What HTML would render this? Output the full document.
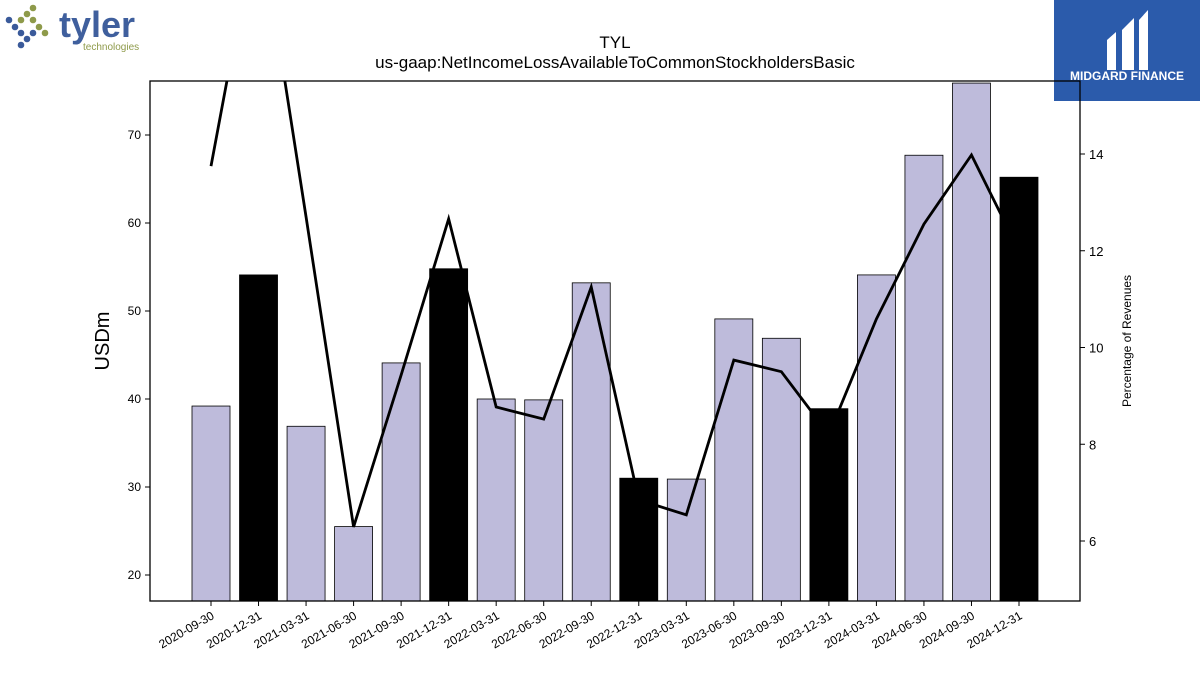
<!DOCTYPE html>
<html><head><meta charset="utf-8"><style>
body{margin:0;background:#fff;width:1200px;height:675px;overflow:hidden;font-family:"Liberation Sans","DejaVu Sans",sans-serif}
</style></head><body>
<svg width="1200" height="675" viewBox="0 0 1200 675" xmlns="http://www.w3.org/2000/svg">
<g>
<circle cx="33" cy="8" r="3.3" fill="#8e9a4a"/><circle cx="27" cy="14" r="3.3" fill="#8e9a4a"/><circle cx="33" cy="20" r="3.3" fill="#8e9a4a"/><circle cx="39" cy="27" r="3.3" fill="#8e9a4a"/><circle cx="45" cy="33" r="3.3" fill="#8e9a4a"/><circle cx="21" cy="20" r="3.3" fill="#8e9a4a"/>
<circle cx="9" cy="20" r="3.3" fill="#3a5a9a"/><circle cx="15" cy="27" r="3.3" fill="#3a5a9a"/><circle cx="21" cy="33" r="3.3" fill="#3a5a9a"/><circle cx="27" cy="39" r="3.3" fill="#3a5a9a"/><circle cx="21" cy="45" r="3.3" fill="#3a5a9a"/><circle cx="33" cy="33" r="3.3" fill="#3a5a9a"/>
<text x="59" y="37" font-size="36" font-weight="bold" fill="#3f5f9d">tyler</text>
<text x="83" y="50" font-size="10" fill="#8e9a4a">technologies</text>
</g>
<g>
<rect x="1054" y="0" width="146" height="101" fill="#2b5bab"/>
<path d="M1107 40 L1116 32 L1116 70 L1107 70 Z M1122 30 L1134 18 L1134 70 L1122 70 Z M1139 20 L1148 10 L1148 70 L1139 70 Z" fill="#fff"/>
<text x="1127" y="80" font-size="12" font-weight="bold" fill="#fff" text-anchor="middle">MIDGARD FINANCE</text>
</g>
<text x="615" y="48" font-size="17" text-anchor="middle">TYL</text>
<text x="615" y="68" font-size="17" text-anchor="middle">us-gaap:NetIncomeLossAvailableToCommonStockholdersBasic</text>
<g id="plot"></g>
<text transform="translate(109,341) rotate(-90)" font-size="20" text-anchor="middle">USDm</text>
<text transform="translate(1131,341) rotate(-90)" font-size="12" text-anchor="middle">Percentage of Revenues</text>
</svg>
<script>
const categories=["2020-09-30","2020-12-31","2021-03-31","2021-06-30","2021-09-30","2021-12-31","2022-03-31","2022-06-30","2022-09-30","2022-12-31","2023-03-31","2023-06-30","2023-09-30","2023-12-31","2024-03-31","2024-06-30","2024-09-30","2024-12-31"];
const netIncome=[39.2,54.1,36.9,25.5,44.1,54.8,40.0,39.9,53.2,31.0,30.9,49.1,46.9,38.9,54.1,67.7,75.9,65.2];
const isYearEnd=[false,true,false,false,false,true,false,false,false,true,false,false,false,true,false,false,false,true];
const pctRevenue=[13.75,19.0,12.7,6.29,9.43,12.66,8.77,8.52,11.25,6.85,6.54,9.74,9.50,8.2,10.59,12.55,13.98,12.0];
const leftTicks=[20,30,40,50,60,70];
const rightTicks=[6,8,10,12,14];
const NS="http://www.w3.org/2000/svg";
const L=150,R=1080,T=81,B=601;
const yL=v=>575-(v-20)*8.8;
const yR=v=>154-(v-14)*48.375;
const xC=i=>211+i*(1019-211)/17;
const plot=document.getElementById('plot');
function mk(t,a,p){const e=document.createElementNS(NS,t);for(const k in a)e.setAttribute(k,a[k]);(p||plot).appendChild(e);return e;}
const clip=mk('clipPath',{id:'c'});mk('rect',{x:L,y:T,width:R-L,height:B-T},clip);
const bars=mk('g',{'clip-path':'url(#c)'});
netIncome.forEach((v,i)=>{
 const r=mk('rect',{x:xC(i)-19,y:yL(v),width:38,height:B-yL(v),fill:isYearEnd[i]?'#000':'#bebbdb',stroke:'#000','stroke-width':0.8},bars);
 
 
});
const ln=mk('polyline',{points:pctRevenue.map((v,i)=>xC(i)+','+yR(v)).join(' '),fill:'none',stroke:'#000','stroke-width':2.8,'stroke-linejoin':'miter'},bars);


mk('rect',{x:L,y:T,width:R-L,height:B-T,fill:'none',stroke:'#000','stroke-width':1.3});
leftTicks.forEach(v=>{
 mk('line',{x1:L-5,x2:L,y1:yL(v),y2:yL(v),stroke:'#000'});
 const t=mk('text',{x:L-9,y:yL(v)+4,'font-size':12,'text-anchor':'end'});t.textContent=v;
 
 
});
rightTicks.forEach(v=>{
 mk('line',{x1:R,x2:R+5,y1:yR(v),y2:yR(v),stroke:'#000'});
 const t=mk('text',{x:R+9,y:yR(v)+5,'font-size':13});t.textContent=v;
 
 
});
categories.forEach((c,i)=>{
 const x=xC(i);
 mk('line',{x1:x,x2:x,y1:B,y2:B+5,stroke:'#000'});
 const t=mk('text',{transform:`translate(${x+4},${B+17}) rotate(-30)`,'font-size':12,'text-anchor':'end'});t.textContent=c;
 
 
});
</script>
</body></html>
